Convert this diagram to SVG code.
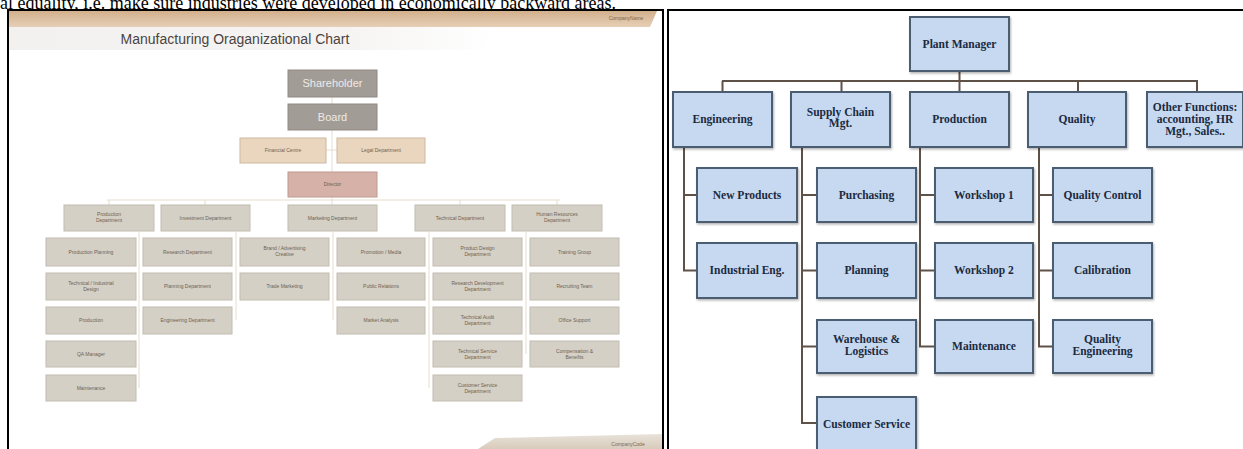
<svg xmlns="http://www.w3.org/2000/svg" width="1243" height="449" viewBox="0 0 1243 449">
<defs>
<linearGradient id="banner" x1="0" y1="0" x2="0" y2="1">
<stop offset="0" stop-color="#d2b08c"/><stop offset="1" stop-color="#e6cfb6"/>
</linearGradient>
<linearGradient id="sub" x1="0" y1="0" x2="1" y2="0">
<stop offset="0" stop-color="#f3f1f0"/><stop offset="0.7" stop-color="#f6f4f3"/><stop offset="1" stop-color="#ffffff"/>
</linearGradient>
<linearGradient id="foot" x1="0" y1="0" x2="0" y2="1">
<stop offset="0" stop-color="#e8e2da"/><stop offset="1" stop-color="#d8cbbb"/>
</linearGradient>
<filter id="sh" x="-10%" y="-10%" width="130%" height="140%">
<feDropShadow dx="1" dy="1.5" stdDeviation="0.8" flood-color="#000" flood-opacity="0.3"/>
</filter>
</defs>
<style>
.top{font-family:"Liberation Serif",serif;font-size:18px;fill:#000}
.frame{fill:none;stroke:#000;stroke-width:2}
.g{fill:#d5d0c6;stroke:#c2bcb1;stroke-width:1}
.dk{fill:#a29c97;stroke:#8f8984;stroke-width:1}
.tan{fill:#ead6bf;stroke:#cdb89f;stroke-width:1}
.dir{fill:#d5b1a8;stroke:#bf9a91;stroke-width:1}
.lt{font-family:"Liberation Sans",Arial,sans-serif;font-size:5px;fill:#6e6250;text-anchor:middle}
.wt{font-family:"Liberation Sans",Arial,sans-serif;font-size:11px;fill:#eeeae6;text-anchor:middle}
.lc{stroke:#e6dccd;stroke-width:1;fill:none}
.b{fill:#c6d9f1;stroke:#4c5d70;stroke-width:2;filter:url(#sh)}
.bt{font-family:"Liberation Serif",serif;font-weight:bold;font-size:11.5px;fill:#1c2a40;text-anchor:middle}
.rc{stroke:#5e5148;stroke-width:2;fill:none}
</style>
<rect width="1243" height="449" fill="#fff"/>
<text class="top" x="0" y="9">al equality, i.e. make sure industries were developed in economically backward areas.</text>

<!-- LEFT PANEL -->
<g id="left-panel">
<polygon points="9,11 657,11 650,27 9,27" fill="url(#banner)"/>
<text x="626" y="20" font-family="Liberation Sans,Arial,sans-serif" font-size="5" fill="#7a6852" text-anchor="middle">CompanyName</text>
<polygon points="9,27 495,27 480,50 9,50" fill="url(#sub)"/>
<text x="235" y="44" font-family="Liberation Sans,Arial,sans-serif" font-size="14" fill="#4a4440" text-anchor="middle">Manufacturing Oraganizational Chart</text>
<polygon points="495,438 662,434 662,449 478,449" fill="url(#foot)"/>
<text x="628" y="446" font-family="Liberation Sans,Arial,sans-serif" font-size="5" fill="#7a6852" text-anchor="middle">CompanyCode</text>
</g>

<g id="left-connectors">
<line class="lc" x1="332" y1="97" x2="332" y2="172"/>
<line class="lc" x1="325" y1="150" x2="337" y2="150"/>
<line class="lc" x1="107" y1="200" x2="560" y2="200"/>
<line class="lc" x1="109" y1="200" x2="109" y2="205"/>
<line class="lc" x1="205" y1="200" x2="205" y2="205"/>
<line class="lc" x1="332" y1="197" x2="332" y2="205"/>
<line class="lc" x1="460" y1="200" x2="460" y2="205"/>
<line class="lc" x1="557" y1="200" x2="557" y2="205"/>
<line class="lc" x1="139" y1="232" x2="139" y2="388"/>
<line class="lc" x1="236" y1="232" x2="236" y2="320"/>
<line class="lc" x1="333" y1="232" x2="333" y2="320"/>
<line class="lc" x1="429" y1="232" x2="429" y2="388"/>
<line class="lc" x1="526" y1="232" x2="526" y2="354"/>
</g>

<g id="n-shareholder"><rect class="dk" x="288" y="70" width="89" height="27"/><text class="wt" x="332.5" y="87">Shareholder</text></g>
<g id="n-board"><rect class="dk" x="288" y="104" width="89" height="26"/><text class="wt" x="332.5" y="121">Board</text></g>
<g id="n-financial"><rect class="tan" x="240" y="138" width="86" height="25"/><text class="lt" x="283" y="152">Financial Centre</text></g>
<g id="n-legal"><rect class="tan" x="337" y="138" width="88" height="25"/><text class="lt" x="381" y="152">Legal Department</text></g>
<g id="n-director"><rect class="dir" x="288" y="172" width="89" height="25"/><text class="lt" x="332.5" y="186">Director</text></g>

<g id="n-production-dept"><rect class="g" x="64" y="205" width="90" height="26"/><text class="lt" x="109" y="216">Production</text><text class="lt" x="109" y="222">Department</text></g>
<g id="n-investment-dept"><rect class="g" x="161" y="205" width="89" height="26"/><text class="lt" x="205.5" y="219.5">Investment Department</text></g>
<g id="n-marketing-dept"><rect class="g" x="288" y="205" width="89" height="26"/><text class="lt" x="332.5" y="219.5">Marketing Department</text></g>
<g id="n-technical-dept"><rect class="g" x="415" y="205" width="90" height="26"/><text class="lt" x="460" y="219.5">Technical Department</text></g>
<g id="n-hr-dept"><rect class="g" x="512" y="205" width="90" height="26"/><text class="lt" x="557" y="216">Human Resources</text><text class="lt" x="557" y="222">Department</text></g>

<g id="n-prod-planning"><rect class="g" x="46" y="238" width="90" height="28"/><text class="lt" x="91" y="253.5">Production Planning</text></g>
<g id="n-tech-design"><rect class="g" x="46" y="273" width="90" height="27"/><text class="lt" x="91" y="285">Technical / Industrial</text><text class="lt" x="91" y="291">Design</text></g>
<g id="n-production"><rect class="g" x="46" y="307" width="90" height="27"/><text class="lt" x="91" y="322">Production</text></g>
<g id="n-qc-manager"><rect class="g" x="46" y="341" width="90" height="26"/><text class="lt" x="91" y="356">QA Manager</text></g>
<g id="n-maintenance-l"><rect class="g" x="46" y="375" width="90" height="26"/><text class="lt" x="91" y="390">Maintenance</text></g>

<g id="n-research"><rect class="g" x="143" y="238" width="89" height="28"/><text class="lt" x="187.5" y="253.5">Research Department</text></g>
<g id="n-planning-l"><rect class="g" x="143" y="273" width="89" height="27"/><text class="lt" x="187.5" y="288">Planning Department</text></g>
<g id="n-engineering-l"><rect class="g" x="143" y="307" width="89" height="27"/><text class="lt" x="187.5" y="322">Engineering Department</text></g>

<g id="n-brand"><rect class="g" x="240" y="238" width="89" height="28"/><text class="lt" x="284.5" y="250">Brand / Advertising</text><text class="lt" x="284.5" y="256">Creative</text></g>
<g id="n-trade"><rect class="g" x="240" y="273" width="89" height="27"/><text class="lt" x="284.5" y="288">Trade Marketing</text></g>

<g id="n-promotion"><rect class="g" x="337" y="238" width="88" height="28"/><text class="lt" x="381" y="253.5">Promotion / Media</text></g>
<g id="n-pr"><rect class="g" x="337" y="273" width="88" height="27"/><text class="lt" x="381" y="288">Public Relations</text></g>
<g id="n-market"><rect class="g" x="337" y="307" width="88" height="27"/><text class="lt" x="381" y="322">Market Analysis</text></g>

<g id="n-product-design"><rect class="g" x="433" y="238" width="89" height="28"/><text class="lt" x="477.5" y="250">Product Design</text><text class="lt" x="477.5" y="256">Department</text></g>
<g id="n-rnd"><rect class="g" x="433" y="273" width="89" height="27"/><text class="lt" x="477.5" y="285">Research Development</text><text class="lt" x="477.5" y="291">Department</text></g>
<g id="n-audit"><rect class="g" x="433" y="307" width="89" height="27"/><text class="lt" x="477.5" y="319">Technical Audit</text><text class="lt" x="477.5" y="325">Department</text></g>
<g id="n-tech-service"><rect class="g" x="433" y="341" width="89" height="26"/><text class="lt" x="477.5" y="353">Technical Service</text><text class="lt" x="477.5" y="359">Department</text></g>
<g id="n-cust-service-l"><rect class="g" x="433" y="375" width="89" height="26"/><text class="lt" x="477.5" y="387">Customer Service</text><text class="lt" x="477.5" y="393">Department</text></g>

<g id="n-training"><rect class="g" x="530" y="238" width="89" height="28"/><text class="lt" x="574.5" y="253.5">Training Group</text></g>
<g id="n-recruiting"><rect class="g" x="530" y="273" width="89" height="27"/><text class="lt" x="574.5" y="288">Recruiting Team</text></g>
<g id="n-office"><rect class="g" x="530" y="307" width="89" height="27"/><text class="lt" x="574.5" y="322">Office Support</text></g>
<g id="n-comp"><rect class="g" x="530" y="341" width="89" height="26"/><text class="lt" x="574.5" y="353">Compensation &amp;</text><text class="lt" x="574.5" y="359">Benefits</text></g>

<!-- frames -->
<g id="frames">
<polyline class="frame" points="8,449 8,10 663,10 663,449"/>
<polyline class="frame" points="668,449 668,10 1243,10"/>
</g>

<!-- RIGHT PANEL -->
<g id="right-connectors">
<line class="rc" x1="959.5" y1="71" x2="959.5" y2="81"/>
<line class="rc" x1="722" y1="81" x2="1198" y2="81" stroke-width="3"/>
<line class="rc" x1="722.5" y1="81" x2="722.5" y2="92"/>
<line class="rc" x1="841.5" y1="81" x2="841.5" y2="92"/>
<line class="rc" x1="959.5" y1="81" x2="959.5" y2="92"/>
<line class="rc" x1="1078" y1="81" x2="1078" y2="92"/>
<line class="rc" x1="1197" y1="81" x2="1197" y2="92"/>
<line class="rc" x1="684" y1="147" x2="684" y2="271"/>
<line class="rc" x1="684" y1="195" x2="697" y2="195"/>
<line class="rc" x1="683" y1="270.5" x2="697" y2="270.5"/>
<line class="rc" x1="802" y1="147" x2="802" y2="424"/>
<line class="rc" x1="802" y1="195" x2="817" y2="195"/>
<line class="rc" x1="802" y1="270.5" x2="817" y2="270.5"/>
<line class="rc" x1="802" y1="346.5" x2="817" y2="346.5"/>
<line class="rc" x1="801" y1="423" x2="817" y2="423"/>
<line class="rc" x1="920" y1="147" x2="920" y2="347"/>
<line class="rc" x1="920" y1="195" x2="935" y2="195"/>
<line class="rc" x1="920" y1="270.5" x2="935" y2="270.5"/>
<line class="rc" x1="919" y1="346.5" x2="935" y2="346.5"/>
<line class="rc" x1="1039" y1="147" x2="1039" y2="347"/>
<line class="rc" x1="1039" y1="195" x2="1053" y2="195"/>
<line class="rc" x1="1039" y1="270.5" x2="1053" y2="270.5"/>
<line class="rc" x1="1038" y1="346.5" x2="1053" y2="346.5"/>
</g>

<g id="n-plant-manager"><rect class="b" x="910" y="17" width="99" height="54"/><text class="bt" x="959.5" y="48">Plant Manager</text></g>
<g id="n-engineering"><rect class="b" x="673" y="92" width="99" height="55"/><text class="bt" x="722.5" y="123">Engineering</text></g>
<g id="n-supply-chain"><rect class="b" x="791" y="92" width="99" height="55"/><text class="bt" x="840.5" y="116">Supply Chain</text><text class="bt" x="840.5" y="127">Mgt.</text></g>
<g id="n-production-r"><rect class="b" x="910" y="92" width="99" height="55"/><text class="bt" x="959.5" y="123">Production</text></g>
<g id="n-quality"><rect class="b" x="1028" y="92" width="98" height="55"/><text class="bt" x="1077" y="123">Quality</text></g>
<g id="n-other"><rect class="b" x="1147" y="92" width="96" height="55"/><text class="bt" x="1195" y="111">Other Functions:</text><text class="bt" x="1195" y="123">accounting, HR</text><text class="bt" x="1195" y="135">Mgt., Sales..</text></g>

<g id="n-new-products"><rect class="b" x="697" y="168" width="100" height="54"/><text class="bt" x="747" y="199">New Products</text></g>
<g id="n-industrial-eng"><rect class="b" x="697" y="243" width="100" height="55"/><text class="bt" x="747" y="274">Industrial Eng.</text></g>
<g id="n-purchasing"><rect class="b" x="817" y="168" width="99" height="54"/><text class="bt" x="866.5" y="199">Purchasing</text></g>
<g id="n-planning"><rect class="b" x="817" y="243" width="99" height="55"/><text class="bt" x="866.5" y="274">Planning</text></g>
<g id="n-warehouse"><rect class="b" x="817" y="320" width="99" height="53"/><text class="bt" x="866.5" y="343">Warehouse &amp;</text><text class="bt" x="866.5" y="355">Logistics</text></g>
<g id="n-customer-service"><rect class="b" x="817" y="397" width="99" height="56"/><text class="bt" x="866.5" y="428">Customer Service</text></g>
<g id="n-workshop1"><rect class="b" x="935" y="168" width="98" height="54"/><text class="bt" x="984" y="199">Workshop 1</text></g>
<g id="n-workshop2"><rect class="b" x="935" y="243" width="98" height="55"/><text class="bt" x="984" y="274">Workshop 2</text></g>
<g id="n-maintenance"><rect class="b" x="935" y="320" width="98" height="53"/><text class="bt" x="984" y="350">Maintenance</text></g>
<g id="n-quality-control"><rect class="b" x="1053" y="168" width="99" height="54"/><text class="bt" x="1102.5" y="199">Quality Control</text></g>
<g id="n-calibration"><rect class="b" x="1053" y="243" width="99" height="55"/><text class="bt" x="1102.5" y="274">Calibration</text></g>
<g id="n-quality-eng"><rect class="b" x="1053" y="320" width="99" height="53"/><text class="bt" x="1102.5" y="343">Quality</text><text class="bt" x="1102.5" y="355">Engineering</text></g>
</svg>
